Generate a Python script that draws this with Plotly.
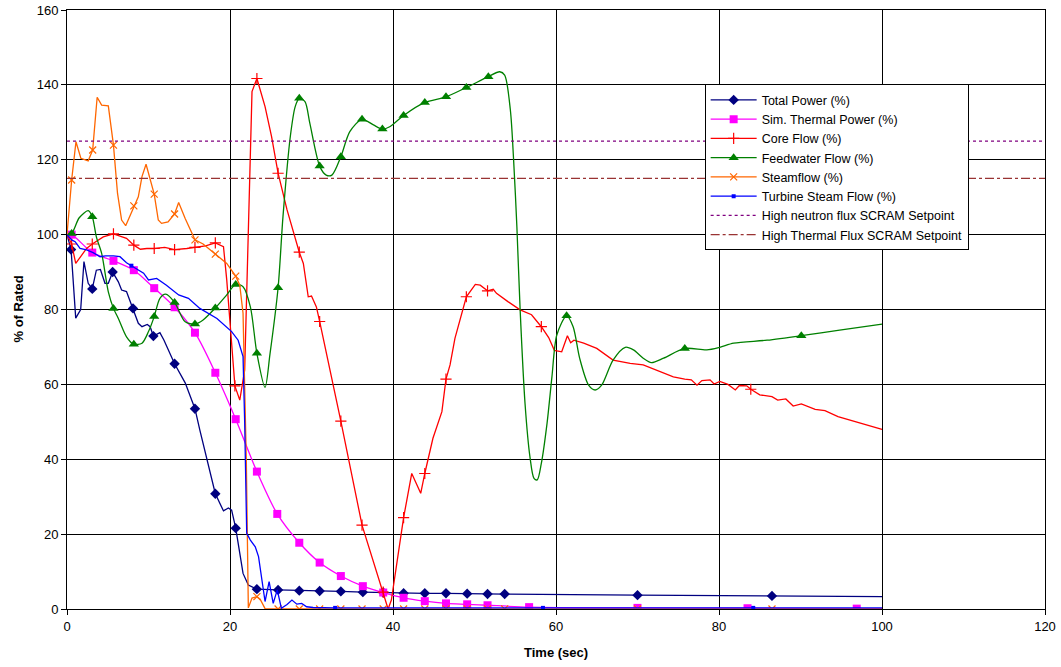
import plotly.graph_objects as go

# ---------------- data ----------------
tp_t = [0, 0.5, 1.07, 1.68, 2.08, 2.6, 3.1, 3.6, 4.1, 4.66, 5.07, 5.6, 6.3, 6.7, 7.3, 8.1, 8.75, 9.2, 9.85, 10.2,
        10.6, 11.4, 11.9, 13.2, 14.5, 15.7, 16.3, 18.2, 19.2, 19.8, 20.2, 20.7, 21.6, 22.25, 23.3, 25.9, 28.5, 31.0,
        33.6, 36.3, 38.8, 41.3, 43.9, 46.5, 49.1, 51.6, 53.7, 70, 86.5, 100]
tp_v = [100, 96, 77.7, 80, 92.8, 87, 85.5, 90.5, 90.7, 87, 87, 90, 87.4, 85.2, 84.8, 80.3, 76.3, 75.4, 76, 75.4,
        72.9, 73.8, 71.8, 65.5, 60.4, 53.5, 47.8, 30.8, 26.2, 27, 26.4, 21.6, 9.5, 6.4, 5.3, 5.1, 4.9, 4.8,
        4.7, 4.5, 4.4, 4.2, 4.2, 4.2, 4.1, 4.0, 4.0, 3.7, 3.5, 3.3]
tp_marks = [0.5, 3.1, 5.6, 8.1, 10.6, 13.2, 15.7, 18.2, 20.7, 23.3, 25.9, 28.5, 31.0, 33.6, 36.3, 38.8, 41.3,
            43.9, 46.5, 49.1, 51.6, 53.7, 70, 86.5]

st_t = [0, 0.57, 3.1, 5.7, 8.2, 10.7, 13.2, 15.7, 18.2, 20.7, 23.3, 25.8, 28.5, 31.0, 33.6, 36.3, 38.8, 41.3,
        43.9, 46.5, 49.1, 51.6, 56.7, 70, 83.5, 96.9, 100]
st_v = [100, 100, 95.2, 93, 90.5, 85.7, 80.6, 73.8, 63.1, 50.7, 36.7, 25.4, 17.7, 12.4, 8.8, 6.1, 4.4, 3.0,
        2.1, 1.5, 1.25, 1.0, 0.5, 0.3, 0.2, 0.1, 0.1]
st_marks = [0.57, 3.1, 5.7, 8.2, 10.7, 13.2, 15.7, 18.2, 20.7, 23.3, 25.8, 28.5, 31.0, 33.6, 36.3, 38.8, 41.3,
            43.9, 46.5, 49.1, 51.6, 56.7, 70, 83.5, 96.9]

cf_t = [0, 0.57, 1.07, 1.68, 2.4, 3.1, 4.45, 5.7, 7.3, 8.2, 9.0, 9.8, 10.7, 12.0, 13.2, 14.7, 15.7, 17.0, 18.2,
        19.2, 19.6, 20.6, 21.2, 21.8, 22.25, 22.7, 23.3, 24.3, 25.1, 25.9, 27.0, 28.5, 29.0, 29.6, 30.0, 30.6,
        31.0, 33.6, 36.2, 38.8, 39.4, 39.8, 41.3, 42.3, 43.4, 43.9, 44.9, 46.0, 46.5, 47.0, 47.6, 49.0, 50.1,
        50.7, 51.6, 52.3, 52.7, 54.1, 55.6, 57.0, 58.2, 59.1, 59.8, 60.7, 61.4, 61.8, 62.2, 63.4, 65.0, 67.0,
        69.1, 70.7, 72.8, 74.4, 75.8, 76.6, 77.3, 77.9, 78.9, 79.4, 80.1, 81.1, 82.0, 82.5, 83.4, 83.9, 85.0,
        86.5, 87.2, 88.2, 89.1, 90.1, 91.8, 93.0, 94.6, 96.5, 100]
cf_v = [100, 97.5, 92.3, 94.1, 96.3, 97.5, 99.4, 100.2, 99, 97.2, 96.1, 96.3, 96.3, 96.6, 96, 96.3, 96.6, 97,
        97.8, 96.8, 87.9, 59.6, 55.8, 63.8, 101, 138.2, 141.7, 134.2, 126.2, 116.4, 106.6, 95.3, 92.3, 83.4,
        83.6, 80.7, 76.8, 50.2, 22.4, 4.5, 0, 2.4, 24.4, 36.2, 30.9, 36.2, 45.6, 52.7, 61.4, 65.2, 72.3, 83.4,
        86.7, 86.5, 85.0, 85.4, 84.3, 82.1, 79.9, 78.6, 75.4, 72.5, 69.1, 68.7, 73.0, 71.1, 71.8, 71.0, 69.6,
        66.5, 65.6, 65.2, 63.4, 62.0, 61.4, 61.2, 59.8, 61.0, 61.2, 60.1, 60.8, 60.0, 58.5, 59.7, 59.6, 58.7,
        57.2, 56.7, 55.8, 56.1, 54.2, 54.8, 53.3, 53.0, 51.4, 50.2, 48.0]
cf_marks = [0.57, 3.1, 5.7, 8.2, 10.7, 13.2, 15.7, 18.2, 20.6, 23.3, 25.9, 28.5, 31.0, 33.6, 36.2, 38.8, 41.3,
            43.9, 46.5, 49.0, 51.6, 58.2, 83.9]

fw_t = [0, 0.57, 1.5, 2.6, 3.1, 3.6, 4.25, 5.07, 5.7, 6.3, 7.3, 8.2, 9.2, 10.0, 10.7, 11.4, 12.1, 13.2, 14.5,
        15.7, 16.7, 18.2, 19.6, 20.7, 21.6, 22.5, 23.3, 24.3, 24.9, 25.9, 26.5, 27.4, 28.0, 28.5, 29.2, 29.8,
        31.0, 31.8, 32.5, 33.6, 34.7, 36.2, 37.6, 38.7, 39.6, 41.3, 43.9, 46.5, 49.0, 51.7, 53.1, 53.7, 54.4,
        54.8, 55.2, 55.6, 56.2, 56.8, 57.3, 57.7, 58.2, 58.9, 59.5, 60.1, 61.3, 62.1, 62.9, 64.0, 64.8, 65.6,
        67.0, 68.5, 69.5, 70.7, 71.7, 73.2, 75.8, 78.5, 80.1, 81.8, 85.9, 90.1, 94.8, 100]
fw_v = [100, 100.3, 104.5, 106.4, 104.8, 99.4, 95, 84.7, 80.3, 77.6, 72.7, 70.7, 71, 74.1, 78.1, 83, 84.1, 81.9,
        76.7, 76.1, 77.2, 80.4, 83.9, 86.7, 86.1, 80.7, 68.3, 59.2, 68, 85.8, 104.8, 126.2, 134.2, 136.4, 135.5,
        129.7, 118.3, 115.9, 115.9, 120.8, 127.5, 130.8, 129.3, 128.2, 128.8, 131.8, 135.3, 136.8, 139.3, 142.2,
        143.5, 142.6, 133.3, 119.9, 102.1, 79.9, 54.9, 40.7, 34.9, 34.5, 38.9, 49.6, 62, 73.2, 78.3, 75.4, 67,
        59.8, 58.5, 59.8, 66.5, 69.9, 69.2, 67, 65.8, 67, 69.6, 69.2, 69.9, 71, 71.8, 73, 74.5, 76.1]
fw_marks = [0.57, 3.1, 5.7, 8.2, 10.7, 13.2, 15.7, 18.2, 20.7, 23.3, 25.9, 28.5, 31.0, 33.6, 36.2, 38.7, 41.3,
            43.9, 46.5, 49.0, 51.7, 61.3, 75.8, 90.1]

sf_t = [0, 0.57, 1.1, 1.7, 2.6, 3.15, 3.7, 4.25, 5.07, 5.7, 6.2, 6.7, 7.2, 8.2, 8.75, 9.2, 9.7, 10.7, 11.2, 11.6,
        12.4, 13.2, 13.7, 14.5, 15.7, 16.7, 18.2, 19.6, 20.7, 21.2, 21.6, 22.0, 22.25, 22.7, 23.3, 23.7, 24.3,
        25.9, 28.5, 31.0, 33.6, 36.2, 38.8, 41.3, 43.9, 46.5, 49.1, 51.6, 53.7, 70, 86.5, 100]
sf_v = [100, 114.6, 124.8, 120.4, 119.7, 122.6, 136.7, 134.6, 134.4, 123.9, 111, 103.9, 102.4, 107.7, 110.1,
        115.5, 118.8, 110.8, 103.9, 103, 103.4, 105.5, 108.6, 104.3, 98.6, 97.5, 94.8, 92.3, 88.9, 86.5, 79, 40,
        0.3, 2.9, 3.3, 2.6, 0.1, 0, 0, 0, 0, 0, 0, 0, 0, 0, 0, 0, 0, 0, 0, 0]
sf_marks = [0.57, 3.15, 5.7, 8.2, 10.7, 13.2, 15.7, 18.2, 20.7, 23.3, 25.9, 28.5, 31.0, 33.6, 36.2, 38.8, 41.3,
            43.9, 46.5, 49.1, 51.6, 53.7, 70, 86.5]

ts_t = [0, 0.57, 1.0, 1.6, 2.4, 3.2, 4.05, 4.7, 5.7, 6.5, 7.3, 7.9, 9.4, 10.0, 11.0, 12.2, 13.7, 14.9, 16.3,
        18.4, 20.2, 21.0, 21.6, 21.8, 22.05, 22.5, 23.1, 23.5, 23.9, 24.3, 24.8, 25.3, 25.8, 26.3, 27.0, 27.6,
        28.2, 28.8, 29.4, 30.2, 32.9, 58.4, 84.2, 100]
ts_v = [100, 98.6, 98.1, 96.3, 95.9, 95.2, 94.1, 94.3, 94.3, 94.1, 92.5, 91.7, 89.7, 87.9, 88.3, 86.5, 83.9, 83,
        80.3, 77.6, 74.1, 71.8, 67.4, 50, 20.2, 18.4, 16.6, 14, 7.7, 2, 7.3, 1.5, 5.1, 0.2, 1.2, 2.4, 1.3, 1.5,
        0.6, 0.4, 0.3, 0.3, 0.3, 0.3]
ts_marks = [7.9, 32.9, 58.4, 84.2]

neutron_setpoint = 125
thermal_setpoint = 115
setpoint_span = [0, 120]

x_ticks = [0, 20, 40, 60, 80, 100, 120]
y_ticks = [0, 20, 40, 60, 80, 100, 120, 140, 160]

# ---------------- figure ----------------
FONT = "Arial, Liberation Sans, sans-serif"
fig = go.Figure()


def add_series(name, t, v, marks, color, symbol, msize, shape, mline=0, smoothing=1.0):
    line = dict(color=color, width=1.3, shape=shape)
    if shape == "spline":
        line["smoothing"] = smoothing
    fig.add_trace(go.Scatter(x=t, y=v, mode="lines", line=line, showlegend=False, hoverinfo="skip"))
    mx = [a for a in t if a in marks]
    my = [b for a, b in zip(t, v) if a in marks]
    mk = dict(color=color, symbol=symbol, size=msize, line=dict(color=color, width=mline))
    fig.add_trace(go.Scatter(x=mx, y=my, mode="markers", marker=mk, showlegend=False))
    fig.add_trace(go.Scatter(x=[None], y=[None], mode="lines+markers", name=name,
                             line=dict(color=color, width=1.3), marker=mk))


add_series("Total Power (%)", tp_t, tp_v, tp_marks, "#000080", "diamond", 8, "linear")
add_series("Sim. Thermal Power (%)", st_t, st_v, st_marks, "#FF00FF", "square", 8, "spline", smoothing=0.8)
add_series("Core Flow (%)", cf_t, cf_v, cf_marks, "#FF0000", "cross-thin-open", 8, "linear", mline=1.2)
add_series("Feedwater Flow (%)", fw_t, fw_v, fw_marks, "#008000", "triangle-up", 9, "spline", smoothing=0.8)
add_series("Steamflow (%)", sf_t, sf_v, sf_marks, "#FF6600", "x-thin-open", 7, "linear", mline=1.2)
add_series("Turbine Steam Flow (%)", ts_t, ts_v, ts_marks, "#0000FF", "square", 4, "linear")

fig.add_trace(go.Scatter(x=setpoint_span, y=[neutron_setpoint] * 2, mode="lines",
                         name="High neutron flux SCRAM Setpoint",
                         line=dict(color="#800080", width=1.3, dash="dot")))
fig.add_trace(go.Scatter(x=setpoint_span, y=[thermal_setpoint] * 2, mode="lines",
                         name="High Thermal Flux SCRAM Setpoint",
                         line=dict(color="#993333", width=1.3, dash="dashdot")))

axis_common = dict(showgrid=True, gridcolor="#000000", gridwidth=1, showline=True, linecolor="#000000",
                   linewidth=1, mirror=True, ticks="outside", ticklen=5, tickcolor="#000000",
                   zeroline=False, automargin=False,
                   tickfont=dict(family=FONT, size=13, color="#000000"))

fig.update_xaxes(range=[0, 120], tickvals=x_ticks, **axis_common)
fig.update_yaxes(range=[0, 160], tickvals=y_ticks, **axis_common)

fig.add_annotation(text="<b>Time (sec)</b>", xref="paper", yref="paper", x=0.5, y=-0.0718,
                   xanchor="center", yanchor="middle", showarrow=False,
                   font=dict(family=FONT, size=13, color="#000000"))
fig.add_annotation(text="<b>% of Rated</b>", xref="paper", yref="paper", x=-0.0501, y=0.5,
                   xanchor="center", yanchor="middle", showarrow=False, textangle=-90,
                   font=dict(family=FONT, size=13, color="#000000"))

fig.update_layout(
    width=1061, height=667,
    margin=dict(l=67, r=16, t=10, b=58),
    paper_bgcolor="white", plot_bgcolor="white",
    font=dict(family=FONT, color="#000000"),
    legend=dict(x=0.652, y=0.876, xanchor="left", yanchor="top", bgcolor="white",
                bordercolor="#000000", borderwidth=1, itemwidth=46,
                font=dict(family=FONT, size=12.5, color="#000000"),
                tracegroupgap=0),
)

fig.write_html("out.html", config={"displayModeBar": False},
               post_script="document.body.style.margin='0px';")
